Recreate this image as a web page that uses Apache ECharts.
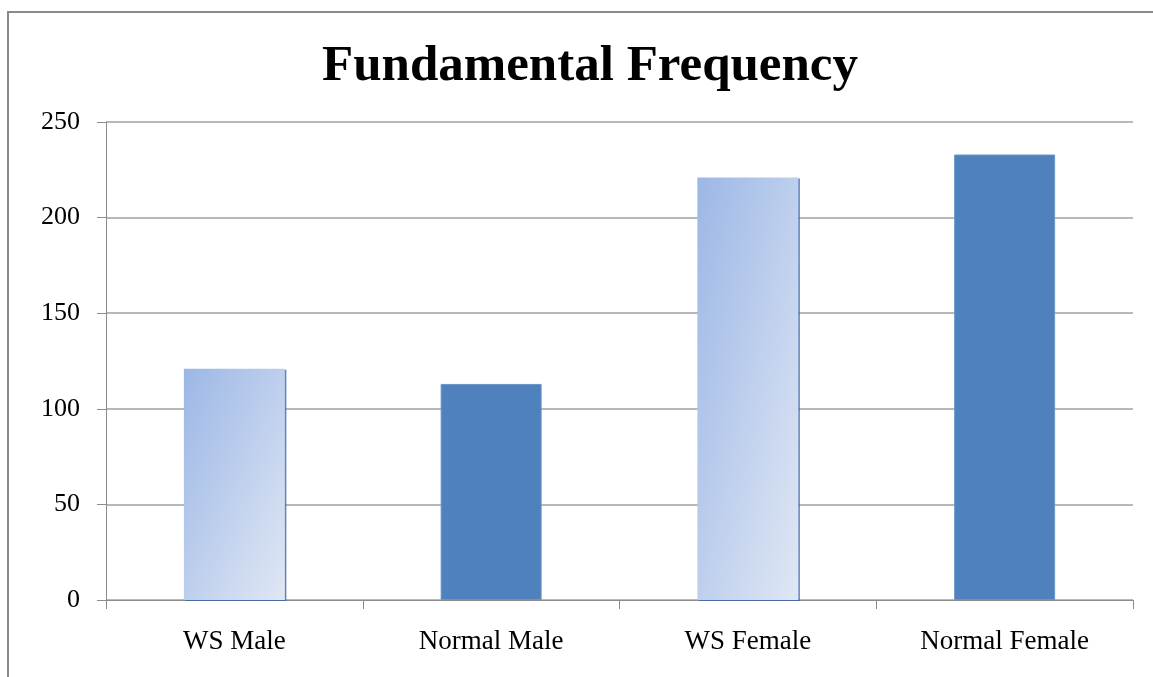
<!DOCTYPE html>
<html>
<head>
<meta charset="utf-8">
<style>
  html, body { margin: 0; padding: 0; background: #fff; }
  #chart { width: 1153px; height: 677px; }
</style>
<script src="https://cdn.jsdelivr.net/npm/echarts@6/dist/echarts.min.js"></script>
</head>
<body>
<div id="chart"></div>
<script>
// Mean fundamental frequency per group
const categories = ['WS Male', 'Normal Male', 'WS Female', 'Normal Female'];
const values = [121, 113, 221, 233];
const isWS = [true, false, true, false];
const yTicks = [0, 50, 100, 150, 200, 250];

const font = '"Liberation Serif", "DejaVu Serif", serif';
const BAR_W = 101;
const normalFill = '#4f81bd';

// Diagonal fade whose iso-lines run along the bar's anti-diagonal
// (top-left mid blue -> bottom-right pale blue), sized to the bar's pixel height.
function wsGradient(h) {
  const w = BAR_W;
  const s = h * h + w * w;
  return new echarts.graphic.LinearGradient(0, 0, 2 * h * h / s, 2 * w * w / s, [
    { offset: 0, color: '#9cb7e6' },
    { offset: 1, color: '#e0e7f4' }
  ]);
}

function buildData(heightOf) {
  return values.map((v, i) => ({
    value: v,
    itemStyle: isWS[i]
      ? { color: wsGradient(heightOf(v)), borderWidth: 0,
          shadowColor: 'rgba(60,100,170,0.8)', shadowOffsetX: 1.5, shadowOffsetY: 1, shadowBlur: 0 }
      : { color: normalFill, borderColor: '#6b95c8', borderWidth: 1 }
  }));
}

const chart = echarts.init(document.getElementById('chart'));
chart.setOption({
  animation: false,
  backgroundColor: '#fff',
  title: {
    text: 'Fundamental Frequency',
    left: 585,
    top: 36,
    textAlign: 'center',
    textStyle: { fontFamily: font, fontWeight: 'bold', fontSize: 51, color: '#000' }
  },
  graphic: [{
    type: 'rect',
    shape: { x: 8, y: 12, width: 1200, height: 700 },
    style: { fill: 'none', stroke: '#8a8a8a', lineWidth: 2 },
    silent: true
  }],
  grid: { left: 106, right: 20, top: 122, bottom: 77 },
  xAxis: {
    type: 'category',
    data: categories,
    axisLine: { lineStyle: { color: '#8c8c8c', width: 1 } },
    axisTick: { show: true, length: 9, alignWithLabel: false, lineStyle: { color: '#8c8c8c' } },
    axisLabel: { fontFamily: font, fontSize: 27, color: '#000', margin: 28 }
  },
  yAxis: {
    type: 'value',
    min: yTicks[0],
    max: yTicks[yTicks.length - 1],
    interval: 50,
    axisLine: { show: true, lineStyle: { color: '#8c8c8c', width: 1 } },
    axisTick: { show: true, length: 9, lineStyle: { color: '#8c8c8c' } },
    axisLabel: { fontFamily: font, fontSize: 26, color: '#000', margin: 26 },
    splitLine: { lineStyle: { color: '#a0a0a0', width: 1.5 } }
  },
  series: [{
    type: 'bar',
    barWidth: BAR_W,
    data: buildData(() => 200)
  }]
});

// Re-fill with gradients sized from the value axis' own scale
const y0 = chart.convertToPixel({ yAxisIndex: 0 }, 0);
chart.setOption({
  series: [{ data: buildData(v => Math.abs(y0 - chart.convertToPixel({ yAxisIndex: 0 }, v))) }]
});
</script>
</body>
</html>
